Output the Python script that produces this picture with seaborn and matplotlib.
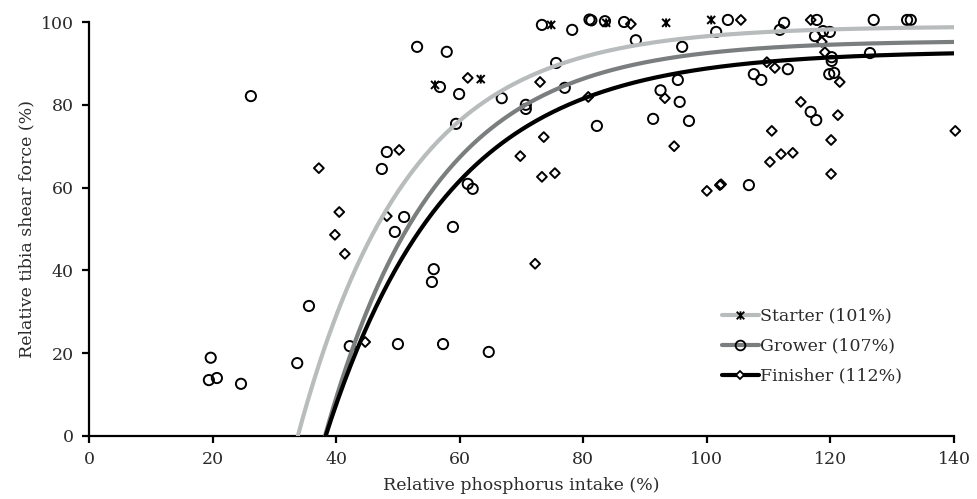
import numpy as np
import pandas as pd
import matplotlib
matplotlib.use("Agg")
import matplotlib.pyplot as plt
from matplotlib.path import Path
from matplotlib.legend_handler import HandlerLine2D
from matplotlib.lines import Line2D
import seaborn as sns

# Observed relative tibia shear force vs relative phosphorus intake, by phase
starter_x = [56.0, 63.4, 74.8, 83.7, 93.4, 100.7]
starter_y = [84.8, 86.2, 99.3, 99.8, 99.8, 100.5]

grower_x = [26.2, 19.7, 19.4, 20.7, 24.6, 33.7, 35.6,
            53.1, 57.9, 56.8, 59.9, 59.4, 66.8, 48.2, 47.4, 51.0, 49.5, 58.9,
            61.3, 62.1, 70.7, 70.7, 75.6, 77.0, 82.2, 73.3, 78.2, 81.0, 81.3,
            83.5, 86.6, 88.5, 91.3, 92.5,
            55.8, 55.5, 42.2, 50.0, 57.3, 64.7,
            103.4, 101.5, 96.0, 112.5, 111.8, 117.8, 117.5, 118.8, 119.9,
            120.2, 120.2, 127.0, 132.4, 133.0, 126.4, 113.1, 107.6, 108.8,
            119.8, 120.6, 95.3, 95.6, 97.1, 116.8, 117.7, 106.8]
grower_y = [82.1, 18.9, 13.5, 14.0, 12.6, 17.6, 31.4,
            94.0, 92.8, 84.3, 82.6, 75.4, 81.6, 68.6, 64.5, 52.9, 49.3, 50.5,
            60.9, 59.7, 80.0, 79.0, 90.1, 84.1, 74.9, 99.3, 98.1, 100.6, 100.4,
            100.2, 100.0, 95.6, 76.6, 83.5,
            40.3, 37.2, 21.7, 22.2, 22.2, 20.3,
            100.5, 97.6, 94.0, 99.8, 98.1, 100.5, 96.6, 97.8, 97.6,
            91.5, 90.6, 100.5, 100.5, 100.5, 92.5, 88.6, 87.4, 86.0,
            87.4, 87.7, 86.0, 80.7, 76.1, 78.3, 76.3, 60.6]

finisher_x = [37.2, 61.3, 50.2, 40.5, 48.2, 39.8, 73.0, 80.8, 73.6, 69.8,
              73.3, 75.4, 87.7, 41.4, 72.2, 44.7, 105.5, 116.8, 118.6, 119.1,
              109.7, 111.0, 121.5, 93.2, 94.7, 115.2, 121.2, 110.5, 120.1,
              140.2, 112.0, 113.9, 110.2, 120.1, 100.0, 102.1, 102.3]
finisher_y = [64.7, 86.5, 69.1, 54.1, 53.1, 48.6, 85.5, 81.9, 72.2, 67.6,
              62.6, 63.5, 99.5, 44.0, 41.6, 22.7, 100.5, 100.5, 95.2, 92.7,
              90.3, 88.9, 85.5, 81.6, 70.0, 80.7, 77.5, 73.7, 71.5,
              73.7, 68.1, 68.4, 66.2, 63.3, 59.2, 60.6, 60.8]

# Fitted exponential response: y = plateau * (1 - exp(-rate * (x - x_zero)))
phases = ["Starter (101%)", "Grower (107%)", "Finisher (112%)"]
plateau = [99.0, 95.5, 93.0]
x_zero = [33.8, 38.2, 38.3]
rate = [0.056, 0.056, 0.0501]

line_colors = ["#b8bcbc", "#7a7e7e", "#000000"]
text_color = "#2b2b2b"
fs = 12.5

sns.set_theme(style="ticks")
plt.rcParams["font.family"] = ["DejaVu Serif"]
plt.rcParams["font.size"] = fs

fig = plt.figure(figsize=(9.78, 4.99), dpi=100)
ax = fig.add_axes([0.091, 0.1263, 0.8845, 0.8296])

# Asterisk-style marker: an X crossed by a vertical stroke
star_path = Path(
    [(-1, -1), (1, 1), (-1, 1), (1, -1), (0, -1.1), (0, 1.1)],
    [Path.MOVETO, Path.LINETO, Path.MOVETO, Path.LINETO, Path.MOVETO, Path.LINETO],
)

points = [
    (starter_x, starter_y, star_path, 40, 1.4),
    (grower_x, grower_y, "o", 54, 1.4),
    (finisher_x, finisher_y, "D", 25, 1.4),
]
for xs, ys, mk, size, lw in points:
    df = pd.DataFrame({"x": xs, "y": ys})
    sns.scatterplot(data=df, x="x", y="y", marker=mk, s=size,
                    facecolor="none", edgecolor="black", linewidth=lw,
                    ax=ax, clip_on=False, zorder=3)

for i, name in enumerate(phases):
    xx = np.linspace(x_zero[i], 140, 300)
    yy = plateau[i] * (1 - np.exp(-rate[i] * (xx - x_zero[i])))
    sns.lineplot(x=xx, y=yy, color=line_colors[i], linewidth=3.0,
                 ax=ax, zorder=4, solid_capstyle="round")

ax.set_xlim(0, 140)
ax.set_ylim(0, 100)
ax.set_xticks(np.arange(0, 141, 20))
ax.set_yticks(np.arange(0, 101, 20))
sns.despine(ax=ax)
for sp in ("left", "bottom"):
    ax.spines[sp].set_linewidth(1.6)
    ax.spines[sp].set_color("black")
ax.tick_params(axis="both", direction="out", length=5, width=1.6,
               color="black", labelcolor=text_color, labelsize=fs, pad=6)
ax.set_xlabel("Relative phosphorus intake (%)", color=text_color, fontsize=fs, labelpad=6)
ax.set_ylabel("Relative tibia shear force (%)", color=text_color, fontsize=fs, labelpad=4)


class EndMarkerHandler(HandlerLine2D):
    def get_xdata(self, legend, xdescent, ydescent, width, height, fontsize):
        xdata = np.array([-xdescent, -xdescent + width])
        return xdata, np.array([-xdescent + 0.75 * width])


handles = [
    Line2D([], [], color=line_colors[0], lw=3, marker=star_path, markersize=6,
           markerfacecolor="none", markeredgecolor="black", markeredgewidth=1.3),
    Line2D([], [], color=line_colors[1], lw=3, marker="o", markersize=7,
           markerfacecolor="none", markeredgecolor="black", markeredgewidth=1.3),
    Line2D([], [], color=line_colors[2], lw=3, marker="D", markersize=4.5,
           markerfacecolor="white", markeredgecolor="black", markeredgewidth=1.3),
]
leg = ax.legend(handles, phases, loc="center left", bbox_to_anchor=(0.722, 0.217),
                frameon=False, borderpad=0, handlelength=2.1, handletextpad=0.1,
                labelspacing=0.75, fontsize=fs,
                handler_map={Line2D: EndMarkerHandler(numpoints=1)})
for t in leg.get_texts():
    t.set_color(text_color)

fig.savefig("out.png", dpi=100)
